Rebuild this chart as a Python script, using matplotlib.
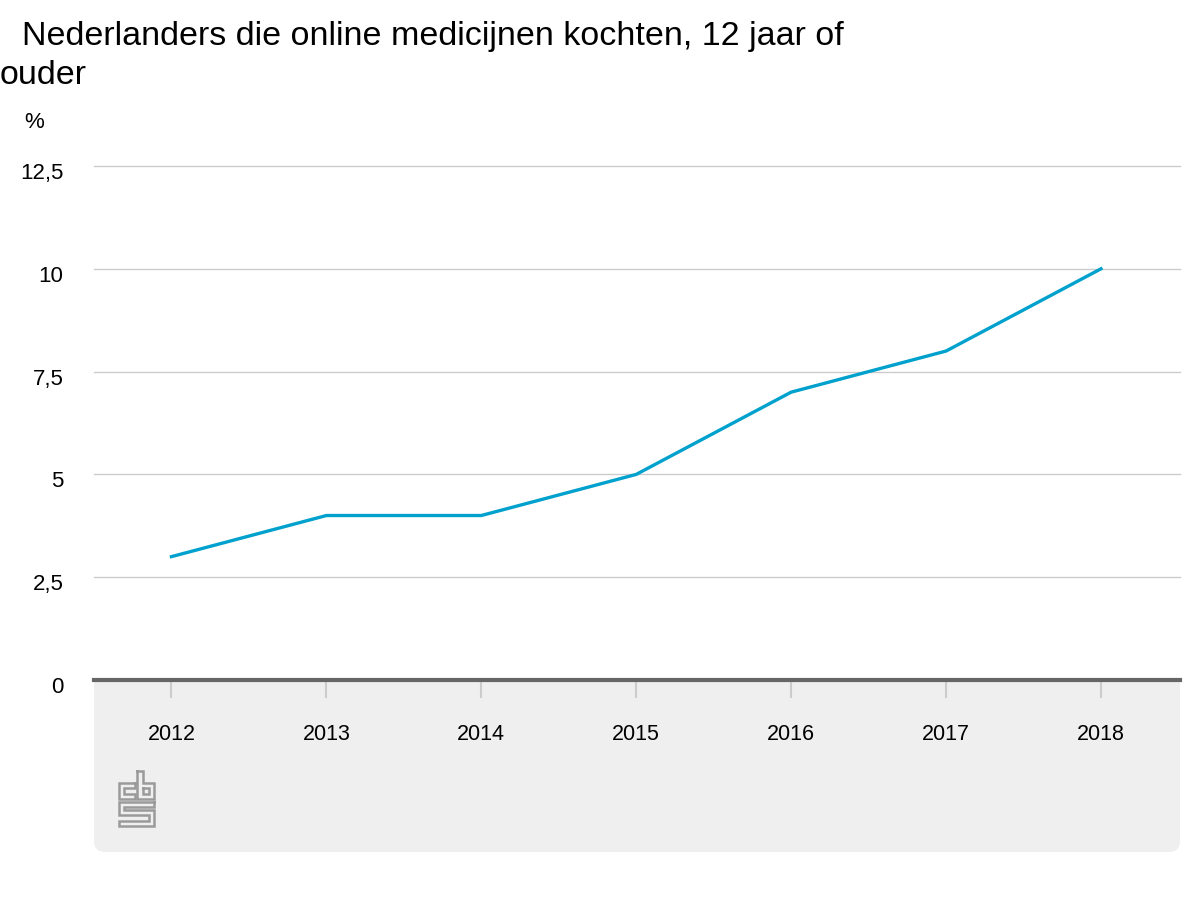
import matplotlib
matplotlib.use("Agg")
import matplotlib.pyplot as plt
from matplotlib.patches import FancyBboxPatch
from matplotlib.lines import Line2D
import matplotlib.transforms as mtransforms

years = [2012, 2013, 2014, 2015, 2016, 2017, 2018]
values = [3, 4, 4, 5, 7, 8, 10]
yticks = [0, 2.5, 5, 7.5, 10, 12.5]
ytick_labels = ["0", "2,5", "5", "7,5", "10", "12,5"]
title_line1 = "Nederlanders die online medicijnen kochten, 12 jaar of"
title_line2 = "ouder"
unit_label = "%"

plt.rcParams['font.family'] = ['Liberation Sans', 'DejaVu Sans']

W, H = 1200, 900
fig = plt.figure(figsize=(12, 9), dpi=100)

def fx(px):
    return px / W

def fy(py):
    return 1 - py / H

ax_left, ax_right, ax_top, ax_bottom = 94, 1180, 166, 680
ax = fig.add_axes([fx(ax_left), fy(ax_bottom), fx(ax_right - ax_left), (ax_bottom - ax_top) / H])
ax.set_facecolor("white")

# grey panel below axis
panel = FancyBboxPatch((fx(94), fy(852)), fx(1180 - 94), (852 - 660) / H,
                       boxstyle="round,pad=0,rounding_size=0.009",
                       transform=fig.transFigure, facecolor="#efefef", edgecolor="none",
                       zorder=-5, mutation_aspect=W / H)
fig.patches.append(panel)

ax.plot(years, values, color="#00a1cd", lw=2.4, solid_joinstyle="round", zorder=3, clip_on=False)

ax.set_xlim(2011.5, 2018.51)
ax.set_ylim(0, 12.5)
ax.set_yticks(yticks)
ax.set_yticklabels(ytick_labels)
ax.set_xticks(years)
ax.set_xticklabels([str(y) for y in years])

for v in yticks[1:]:
    ax.axhline(v, color="#cccccc", lw=1, zorder=1, clip_on=False)
ax.axhline(0, color="#666666", lw=3, zorder=4, clip_on=False)

for s in ax.spines.values():
    s.set_visible(False)

ax.tick_params(axis="y", length=0, pad=22, labelsize=16, labelcolor="black")
ax.tick_params(axis="x", length=13, width=1.5, color="#cccccc", pad=19, labelsize=15.5,
               labelcolor="black", direction="out")

offset = mtransforms.ScaledTranslation(0, -5 / 100, fig.dpi_scale_trans)
for lbl in ax.get_yticklabels():
    lbl.set_transform(lbl.get_transform() + offset)

fig.text(fx(22), fy(36), title_line1, fontsize=24.5, ha="left", va="center", color="black")
fig.text(fx(0), fy(76), title_line2, fontsize=24.5, ha="left", va="center", color="black")
fig.text(fx(24), fy(123), unit_label, fontsize=16, ha="left", va="center", color="black")

# CBS logo (approximate) in figure pixel coordinates
logo_color = "#9a9a9a"
lw = 1.8
def pl(xs, ys):
    fig.add_artist(Line2D([fx(x) for x in xs], [fy(y) for y in ys],
                          transform=fig.transFigure, color=logo_color, lw=lw,
                          solid_joinstyle="miter", solid_capstyle="projecting"))

# "c"
pl([135, 119, 119, 135, 135, 124, 124, 135, 135], [783, 783, 799, 799, 794, 794, 788, 788, 783])
# "b"
pl([137, 143, 143, 154, 154, 137, 137], [771, 771, 783, 783, 799, 799, 771])
pl([143, 149, 149, 143, 143], [788, 788, 794, 794, 788])
# "s"
pl([154, 119, 119, 149, 149, 119, 119, 154, 154, 124, 124, 154, 154],
   [802, 802, 815, 815, 821, 821, 826, 826, 810, 810, 807, 807, 802])

fig.savefig("out.png", dpi=100)
